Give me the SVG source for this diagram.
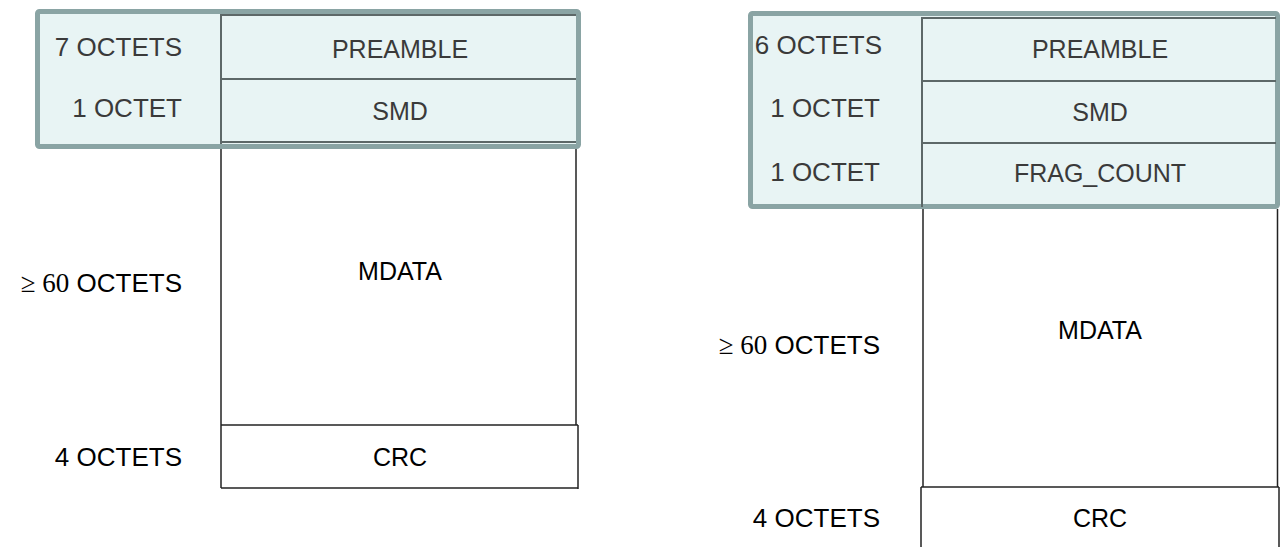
<svg xmlns="http://www.w3.org/2000/svg" width="1286" height="547" viewBox="0 0 1286 547">
<style>
.hl{fill:#e8f4f4;stroke:#8aa4a4;stroke-width:5}
.in{stroke:#5d6868;stroke-width:2;fill:none}
.out{stroke:#222;stroke-width:1.5;fill:none}
text{font-family:"Liberation Sans",Arial,sans-serif;font-size:25px}
.lbl{text-anchor:end;font-size:26px}
.cell{text-anchor:middle}
.g{fill:#3a3a3a}
.k{fill:#000}
.ser{font-family:"Liberation Serif","Times New Roman",serif;font-size:27px}
</style>
<rect width="1286" height="547" fill="#fff"/>
<g id="left-highlight">
<rect class="hl" x="37.5" y="11.5" width="541" height="135" rx="2"/>
</g>
<g id="right-highlight">
<rect class="hl" x="750.5" y="13.5" width="527" height="193" rx="2"/>
</g>
<g id="connectors">
<line class="in" x1="221" y1="14" x2="221" y2="144"/>
<line class="in" x1="221" y1="15" x2="576" y2="15"/>
<line class="in" x1="221" y1="79" x2="576" y2="79"/>
<line class="in" x1="221" y1="142" x2="576" y2="142" stroke="#333"/>
<line class="out" x1="221" y1="149" x2="221" y2="488"/>
<line class="out" x1="576" y1="149" x2="576" y2="425"/>
<line class="out" x1="221" y1="425" x2="578" y2="425"/>
<line class="out" x1="578" y1="425" x2="578" y2="489"/>
<line class="out" x1="221" y1="488" x2="578" y2="488"/>
<line class="in" x1="922" y1="17" x2="922" y2="207"/>
<line class="in" x1="922" y1="18" x2="1276" y2="18"/>
<line class="in" x1="921" y1="81" x2="1276" y2="81"/>
<line class="in" x1="921" y1="143" x2="1276" y2="143"/>
<line class="out" x1="923" y1="209" x2="923" y2="487"/>
<line class="out" x1="1277.5" y1="209" x2="1277.5" y2="487"/>
<line class="out" x1="921" y1="487" x2="1279" y2="487"/>
<line class="out" x1="921" y1="487" x2="921" y2="547"/>
<line class="out" x1="1279" y1="487" x2="1279" y2="547"/>
</g>
<g id="left-preamble"><text class="lbl g" x="182" y="56">7 OCTETS</text><text class="cell g" x="400" y="58">PREAMBLE</text></g>
<g id="left-smd"><text class="lbl g" x="182" y="117">1 OCTET</text><text class="cell g" x="400" y="120">SMD</text></g>
<g id="left-mdata"><text class="lbl k" x="182" y="292"><tspan class="ser">≥ 60</tspan> OCTETS</text><text class="cell k" x="400" y="280">MDATA</text></g>
<g id="left-crc"><text class="lbl k" x="182" y="466">4 OCTETS</text><text class="cell k" x="400" y="466">CRC</text></g>
<g id="right-preamble"><text class="lbl g" x="882" y="54">6 OCTETS</text><text class="cell g" x="1100" y="58">PREAMBLE</text></g>
<g id="right-smd"><text class="lbl g" x="880" y="117">1 OCTET</text><text class="cell g" x="1100" y="121">SMD</text></g>
<g id="right-frag"><text class="lbl g" x="880" y="181">1 OCTET</text><text class="cell g" x="1100" y="182">FRAG_COUNT</text></g>
<g id="right-mdata"><text class="lbl k" x="880" y="354"><tspan class="ser">≥ 60</tspan> OCTETS</text><text class="cell k" x="1100" y="339">MDATA</text></g>
<g id="right-crc"><text class="lbl k" x="880" y="527">4 OCTETS</text><text class="cell k" x="1100" y="527">CRC</text></g>
</svg>
